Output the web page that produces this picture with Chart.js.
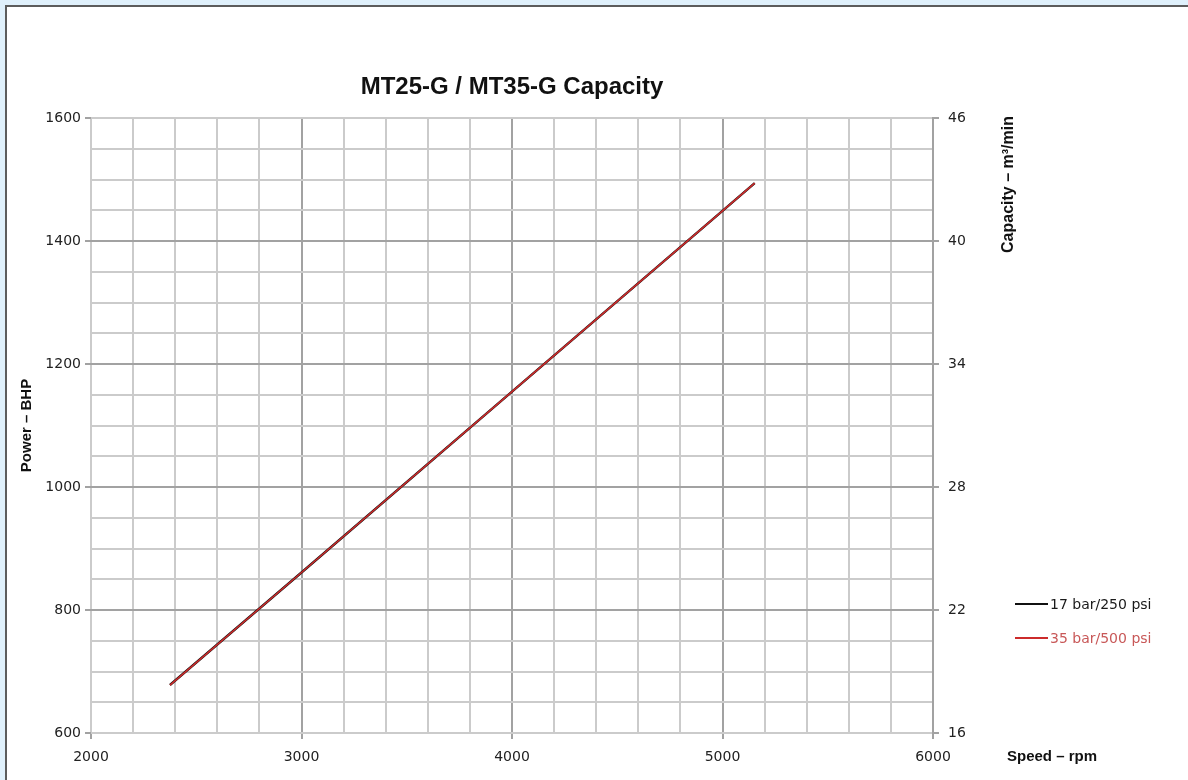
<!DOCTYPE html>
<html>
<head>
<meta charset="utf-8">
<script src="https://cdn.jsdelivr.net/npm/chart.js@4"></script>
<style>
  html, body { margin: 0; padding: 0; width: 1188px; height: 780px; overflow: hidden; background: #dff0fb; }
  #frame { position: absolute; left: 5px; top: 5px; right: 0; bottom: 0; background: #ffffff;
           border-left: 2px solid #5c5c5c; border-top: 2px solid #5c5c5c; }
  #c { position: absolute; left: 0; top: 0; }
  #legend { position: absolute; left: 1015px; top: 594px; font-family: "DejaVu Sans", sans-serif; font-size: 14px; }
  .item { position: absolute; left: 0; white-space: nowrap; height: 20px; line-height: 20px; }
  .swatch { position: absolute; left: 0; top: 9px; width: 33px; height: 2px; }
  .lbl { position: absolute; left: 35px; top: 0; }
</style>
</head>
<body>
<div id="frame"></div>
<canvas id="c" width="1188" height="780"></canvas>
<div id="legend"></div>
<script>
// ---- data ----
const chartTitle = "MT25-G / MT35-G Capacity";
const seriesNames = ["17 bar/250 psi", "35 bar/500 psi"];
const seriesColors = ["#111111", "#cc2b2b"];
const legendTextColors = ["#1a1a1a", "#c85858"];
const speed17 = [2375, 3000, 4000, 5000, 5153];
const power17 = [678, 861, 1155, 1449, 1494];
const speed35 = [2375, 3000, 4000, 5000, 5153];
const power35 = [678, 861, 1155, 1449, 1494];
const xTickLabels = [2000, 3000, 4000, 5000, 6000];
const yTickLabels = [600, 800, 1000, 1200, 1400, 1600];
const y2TickLabels = [16, 22, 28, 34, 40, 46];
const yTitle = "Power – BHP";
const y2Title = "Capacity – m³/min";
const xTitle = "Speed – rpm";

const toPts = (xs, ys) => xs.map((x, i) => ({ x: x, y: ys[i] }));

const MAJOR = "#a2a2a2", MINOR = "#cbcbcb";
const tickFont = { family: "DejaVu Sans", size: 14 };

const extraText = {
  id: "extraText",
  afterDraw(chart) {
    const ctx = chart.ctx;
    ctx.save();
    ctx.fillStyle = "#111";
    ctx.font = "bold 15px 'Liberation Sans'";
    ctx.textBaseline = "alphabetic";
    ctx.textAlign = "left";
    ctx.fillText(xTitle, 1007, 761);
    ctx.font = "bold 16px 'Liberation Sans'";
    ctx.translate(1013, 116);
    ctx.rotate(-Math.PI / 2);
    ctx.textAlign = "right";
    ctx.fillText(y2Title, 0, 0);
    ctx.restore();
  }
};

new Chart(document.getElementById("c"), {
  type: "line",
  data: {
    datasets: [
      { label: seriesNames[0], data: toPts(speed17, power17), borderColor: seriesColors[0], borderWidth: 2.4, pointRadius: 0, tension: 0, yAxisID: "y", order: 2 },
      { label: seriesNames[1], data: toPts(speed35, power35), borderColor: seriesColors[1], borderWidth: 1.6, pointRadius: 0, tension: 0, yAxisID: "y", order: 1 }
    ]
  },
  options: {
    responsive: false,
    devicePixelRatio: 1,
    animation: false,
    layout: { padding: 0 },
    plugins: {
      legend: { display: false },
      tooltip: { enabled: false },
      title: {
        display: true, text: chartTitle, fullSize: false, color: "#111",
        font: { family: "Liberation Sans", size: 24, weight: "bold", lineHeight: 1.2 },
        padding: { top: 73, bottom: 16.2 }
      }
    },
    scales: {
      x: {
        type: "linear", min: 2000, max: 6000,
        afterFit: s => { s.height = 47; },
        afterBuildTicks: s => { s.ticks = []; for (let v = 2000; v <= 6000; v += 200) s.ticks.push({ value: v }); },
        ticks: {
          autoSkip: false, maxRotation: 0, padding: 10, color: "#222", font: tickFont,
          callback: v => xTickLabels.includes(v) ? String(v) : ""
        },
        grid: {
          lineWidth: 2, tickLength: 6,
          color: c => (c.tick && c.tick.value % 1000 === 0 && c.tick.value !== 2000) ? MAJOR : MINOR,
          tickColor: c => (c.tick && xTickLabels.includes(c.tick.value)) ? MAJOR : "rgba(0,0,0,0)"
        },
        border: { display: false }
      },
      y: {
        type: "linear", position: "left", min: 600, max: 1600,
        afterFit: s => { s.width = 91; },
        afterBuildTicks: s => { s.ticks = []; for (let v = 600; v <= 1600; v += 50) s.ticks.push({ value: v }); },
        ticks: {
          autoSkip: false, padding: 4, color: "#222", font: tickFont,
          callback: v => yTickLabels.includes(v) ? String(v) : ""
        },
        grid: {
          lineWidth: 2, tickLength: 6,
          color: c => (c.tick && c.tick.value % 200 === 0 && c.tick.value !== 600 && c.tick.value !== 1600) ? MAJOR : MINOR,
          tickColor: c => (c.tick && yTickLabels.includes(c.tick.value)) ? MAJOR : "rgba(0,0,0,0)"
        },
        border: { display: false },
        title: {
          display: true, text: yTitle, color: "#111", align: "center",
          font: { family: "Liberation Sans", size: 15, weight: "bold", lineHeight: 1.2 },
          padding: { top: 18, bottom: 0 }
        }
      },
      y2: {
        type: "linear", position: "right", min: 16, max: 46,
        afterFit: s => { s.width = 255; },
        afterBuildTicks: s => { s.ticks = y2TickLabels.map(v => ({ value: v })); },
        ticks: { autoSkip: false, padding: 9, color: "#222", font: tickFont },
        grid: { drawOnChartArea: false, lineWidth: 2, tickLength: 6, tickColor: MAJOR },
        border: { display: true, color: MAJOR, width: 2 }
      }
    }
  },
  plugins: [extraText]
});

// HTML legend
const leg = document.getElementById("legend");
seriesNames.forEach((name, i) => {
  const it = document.createElement("div");
  it.className = "item";
  it.style.top = (i * 34) + "px";
  const sw = document.createElement("div");
  sw.className = "swatch";
  sw.style.background = seriesColors[i];
  const lb = document.createElement("span");
  lb.className = "lbl";
  lb.style.color = legendTextColors[i];
  lb.textContent = name;
  it.appendChild(sw); it.appendChild(lb);
  leg.appendChild(it);
});
</script>
</body>
</html>
